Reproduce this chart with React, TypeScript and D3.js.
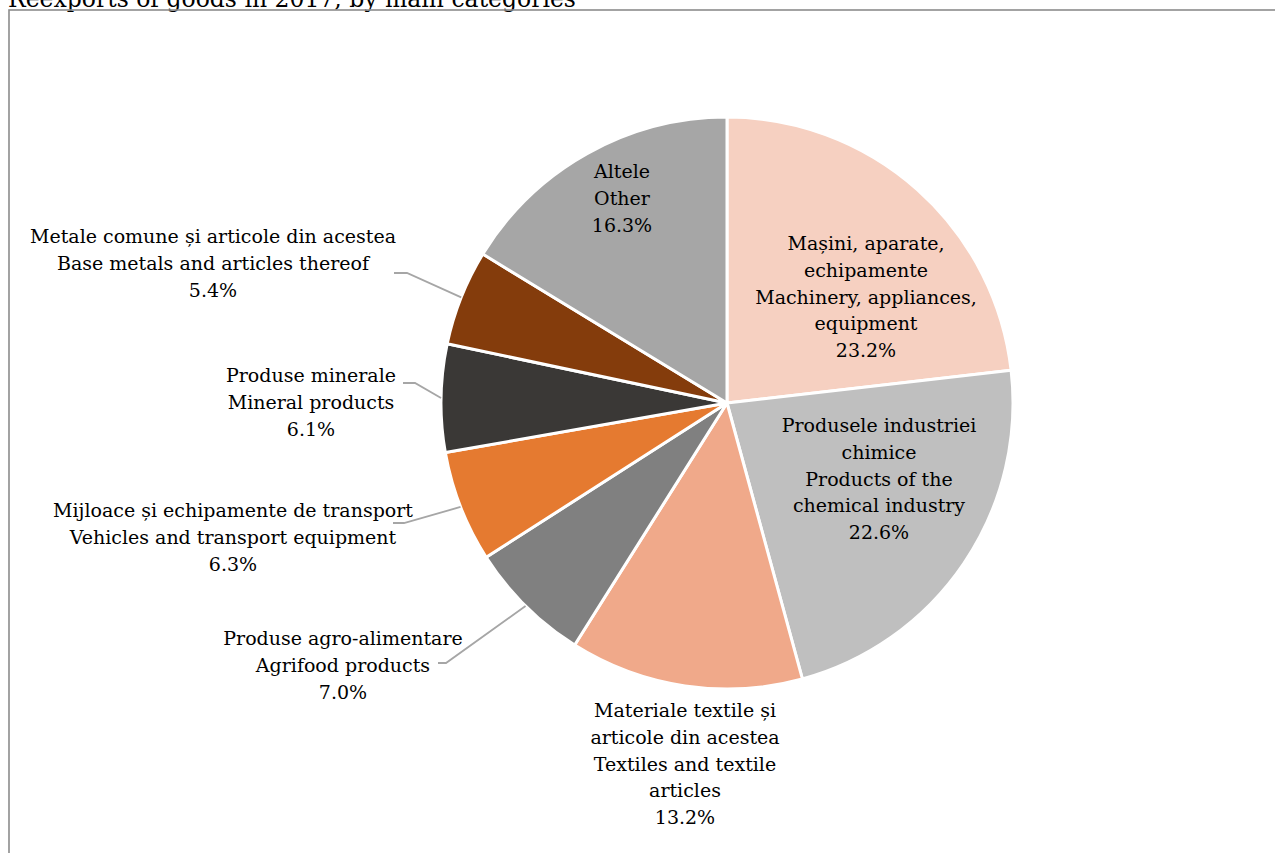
import React from "react";
import * as d3 from "d3";

const title = "Reexports of goods in 2017, by main categories";
const categories = [
  "Mașini, aparate, echipamente",
  "Produsele industriei chimice",
  "Materiale textile și articole din acestea",
  "Produse agro-alimentare",
  "Mijloace și echipamente de transport",
  "Produse minerale",
  "Metale comune și articole din acestea",
  "Altele",
];
const labelLines: string[][] = [
  ["Mașini, aparate,", "echipamente", "Machinery, appliances,", "equipment"],
  ["Produsele industriei", "chimice", "Products of the", "chemical industry"],
  ["Materiale textile și", "articole din acestea", "Textiles and textile", "articles"],
  ["Produse agro-alimentare", "Agrifood products"],
  ["Mijloace și echipamente de transport", "Vehicles and transport equipment"],
  ["Produse minerale", "Mineral products"],
  ["Metale comune și articole din acestea", "Base metals and articles thereof"],
  ["Altele", "Other"],
];
const values = [23.2, 22.6, 13.2, 7.0, 6.3, 6.1, 5.4, 16.3];
const colors = ["#F6D0C1", "#BFBFBF", "#F0A98A", "#808080", "#E57A30", "#3A3836", "#843C0C", "#A6A6A6"];

// layout: label center x, first baseline y, leader (x start, x bend, y) for outside labels
const labelLayout = [
  { x: 866, y: 250, leader: null },
  { x: 879, y: 432, leader: null },
  { x: 685, y: 717, leader: null },
  { x: 343, y: 645, leader: { x0: 438, x1: 446, y: 663 } },
  { x: 233, y: 517, leader: { x0: 393, x1: 404, y: 523 } },
  { x: 311, y: 382, leader: { x0: 403, x1: 415, y: 383 } },
  { x: 213, y: 243, leader: { x0: 394, x1: 407, y: 273 } },
  { x: 622, y: 178, leader: null },
];

const W = 1275;
const H = 853;
const cx = 727;
const cy = 403;
const R = 286;
const LH = 26.8;
const FONT = "'DejaVu Serif', serif";

export default function App() {
  const pie = d3.pie<number>().sort(null).value((d) => d);
  const arcs = pie(values);
  const arc = d3.arc<d3.PieArcDatum<number>>().innerRadius(0).outerRadius(R);
  const edge = d3.arc<d3.PieArcDatum<number>>().innerRadius(R).outerRadius(R);
  return (
    <svg
      width={W}
      height={H}
      style={{ position: "absolute", left: 0, top: 0, background: "#fff" }}
      fontFamily={FONT}
    >
      <text x={8} y={7} fontSize={23.5} fill="#000">{title}</text>
      <rect x={9} y={10} width={W + 20} height={H + 20} fill="none" stroke="#8c8c8c" strokeWidth={1.6} />
      <g transform={`translate(${cx},${cy})`}>
        {arcs.map((a, i) => (
          <path key={categories[i]} d={arc(a) || ""} fill={colors[i]} stroke="#fff" strokeWidth={3} strokeLinejoin="round" />
        ))}
      </g>
      {arcs.map((a, i) => {
        const L = labelLayout[i];
        if (!L.leader) return null;
        const [ex, ey] = edge.centroid(a);
        return (
          <polyline
            key={"l" + i}
            points={`${L.leader.x0},${L.leader.y} ${L.leader.x1},${L.leader.y} ${cx + ex},${cy + ey}`}
            fill="none"
            stroke="#A6A6A6"
            strokeWidth={1.8}
          />
        );
      })}
      {arcs.map((a, i) => {
        const L = labelLayout[i];
        const lines = [...labelLines[i], values[i].toFixed(1) + "%"];
        return (
          <text key={"t" + i} x={L.x} y={L.y} fontSize={19} textAnchor="middle" fill="#000">
            {lines.map((ln, j) => (
              <tspan key={j} x={L.x} dy={j === 0 ? 0 : LH}>{ln}</tspan>
            ))}
          </text>
        );
      })}
    </svg>
  );
}
